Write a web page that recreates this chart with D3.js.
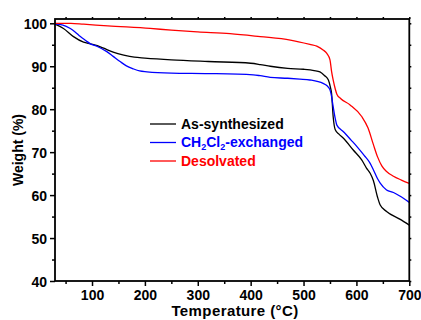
<!DOCTYPE html>
<html><head><meta charset="utf-8">
<script src="https://cdn.jsdelivr.net/npm/d3@7"></script>
<style>body{margin:0;background:#fff}svg{display:block}text{font-family:"Liberation Sans",Arial,sans-serif;font-weight:bold}</style>
</head><body>
<svg id="c" width="421" height="320"></svg>
<script>
// Data
const seriesNames = ["As-synthesized", "CH2Cl2-exchanged", "Desolvated"];
const seriesColors = ["#000000", "#0000ff", "#ff0000"];
const asTemp = [30,46,65,84,97,110,122,140,160,180,200,250,320,400,418,437,470,500,520,531,540,547,551,553,556,560,567,575,594,610,619,626,632,640,645,657,682,700];
const asWeight = [99.8,98.8,96.9,95.6,95.2,94.8,94.2,93.3,92.6,92.1,91.9,91.5,91.1,90.7,90.4,90.0,89.5,89.3,89.0,88.7,87.8,86.8,85.0,83.7,78.3,75.2,74.2,73.3,70.5,68.2,66.3,65.1,63.4,59.5,57.7,56.2,54.4,53.0];
const exTemp = [30,45,59,68,78,88,97,110,128,140,153,165,178,190,204,250,320,405,418,437,470,493,512,537,544,550,553,556,560,563,575,590,601,615,626,632,640,645,657,670,682,700];
const exWeight = [99.8,99.6,98.8,98.0,96.9,96.0,95.2,94.6,93.4,92.3,91.1,90.1,89.4,88.9,88.7,88.4,88.3,88.0,87.8,87.4,87.2,87.0,86.8,86.0,85.5,84.5,83.0,80.6,77.8,76.3,74.8,72.8,71.3,69.2,67.4,65.9,63.8,62.8,61.2,60.6,59.8,58.3];
const deTemp = [30,60,84,130,210,250,300,361,418,475,512,525,537,544,550,553,556,560,563,570,588,610,622,632,640,648,657,670,685,700];
const deWeight = [100,100,99.8,99.4,98.8,98.4,98.0,97.6,96.9,96.1,95.1,94.7,93.8,93.0,91.5,88.8,86.8,84.7,83.5,82.5,81.0,78.3,75.6,71.8,68.9,66.8,65.5,64.4,63.5,62.7];
const xTicks = [100,200,300,400,500,600,700];
const yTicks = [40,50,60,70,80,90,100];

const temps = [asTemp, exTemp, deTemp];
const weights = [asWeight, exWeight, deWeight];

const svg = d3.select("#c");
const L = 55, R = 409.3, T = 19, B = 281;
const x = d3.scaleLinear().domain([30, 700]).range([L, R]);
const y = d3.scaleLinear().domain([40, 101]).range([B, T]);

// curves
const line = d3.line().x(d => x(d[0])).y(d => y(d[1])).curve(d3.curveMonotoneX);
temps.forEach((t, i) => {
  const pts = t.map((v, j) => [v, weights[i][j]]);
  svg.append("path").datum(pts).attr("d", line)
    .attr("fill", "none").attr("stroke", seriesColors[i]).attr("stroke-width", 1.3);
});

// axes
const xMinor = d3.range(50, 701, 50).filter(v => v % 100 !== 0);
const yMinor = d3.range(45, 101, 10);
function axisGroup(axis, tx, ty) {
  const g = svg.append("g").attr("transform", `translate(${tx},${ty})`).call(axis);
  g.select(".domain").remove();
  g.selectAll("line").attr("stroke", "#000").attr("stroke-width", 1.5);
  return g;
}
const gb = axisGroup(d3.axisBottom(x).tickValues(xTicks).tickSize(5).tickPadding(4), 0, B);
gb.selectAll("text").attr("font-size", 14).attr("fill", "#000");
axisGroup(d3.axisBottom(x).tickValues(xMinor).tickSize(3).tickFormat(""), 0, B);
const gl = axisGroup(d3.axisLeft(y).tickValues(yTicks).tickSize(5).tickPadding(3), L, 0);
gl.selectAll("text").attr("font-size", 14).attr("fill", "#000").attr("dy", "0.36em");
axisGroup(d3.axisLeft(y).tickValues(yMinor).tickSize(3).tickFormat(""), L, 0);
axisGroup(d3.axisTop(x).tickValues(xTicks.concat(xMinor)).tickSize(2).tickFormat(""), 0, T);
axisGroup(d3.axisRight(y).tickValues(yTicks.concat(yMinor)).tickSize(2).tickFormat(""), R, 0);

svg.append("rect").attr("x", L).attr("y", T).attr("width", R - L).attr("height", B - T)
  .attr("fill", "none").attr("stroke", "#000").attr("stroke-width", 1.8);

// axis titles
svg.append("text").attr("x", 235).attr("y", 316).attr("text-anchor", "middle")
  .attr("font-size", 15).attr("letter-spacing", 0.4).text("Temperature (°C)");
svg.append("text").attr("transform", `translate(23,${(T + B) / 2}) rotate(-90)`)
  .attr("text-anchor", "middle").attr("font-size", 14).text("Weight (%)");

// legend
const legY = [124, 142.5, 161];
seriesNames.forEach((n, i) => {
  svg.append("line").attr("x1", 150).attr("x2", 176).attr("y1", legY[i]).attr("y2", legY[i])
    .attr("stroke", seriesColors[i]).attr("stroke-width", 1.3);
  const t = svg.append("text").attr("x", 181).attr("y", legY[i] + 4.8)
    .attr("font-size", 14).attr("fill", seriesColors[i]);
  if (i === 1) {
    t.append("tspan").text("CH");
    t.append("tspan").attr("font-size", 9).attr("dy", 3).text("2");
    t.append("tspan").attr("dy", -3).text("Cl");
    t.append("tspan").attr("font-size", 9).attr("dy", 3).text("2");
    t.append("tspan").attr("dy", -3).text("-exchanged");
  } else {
    t.text(n);
  }
});
</script>
</body></html>
